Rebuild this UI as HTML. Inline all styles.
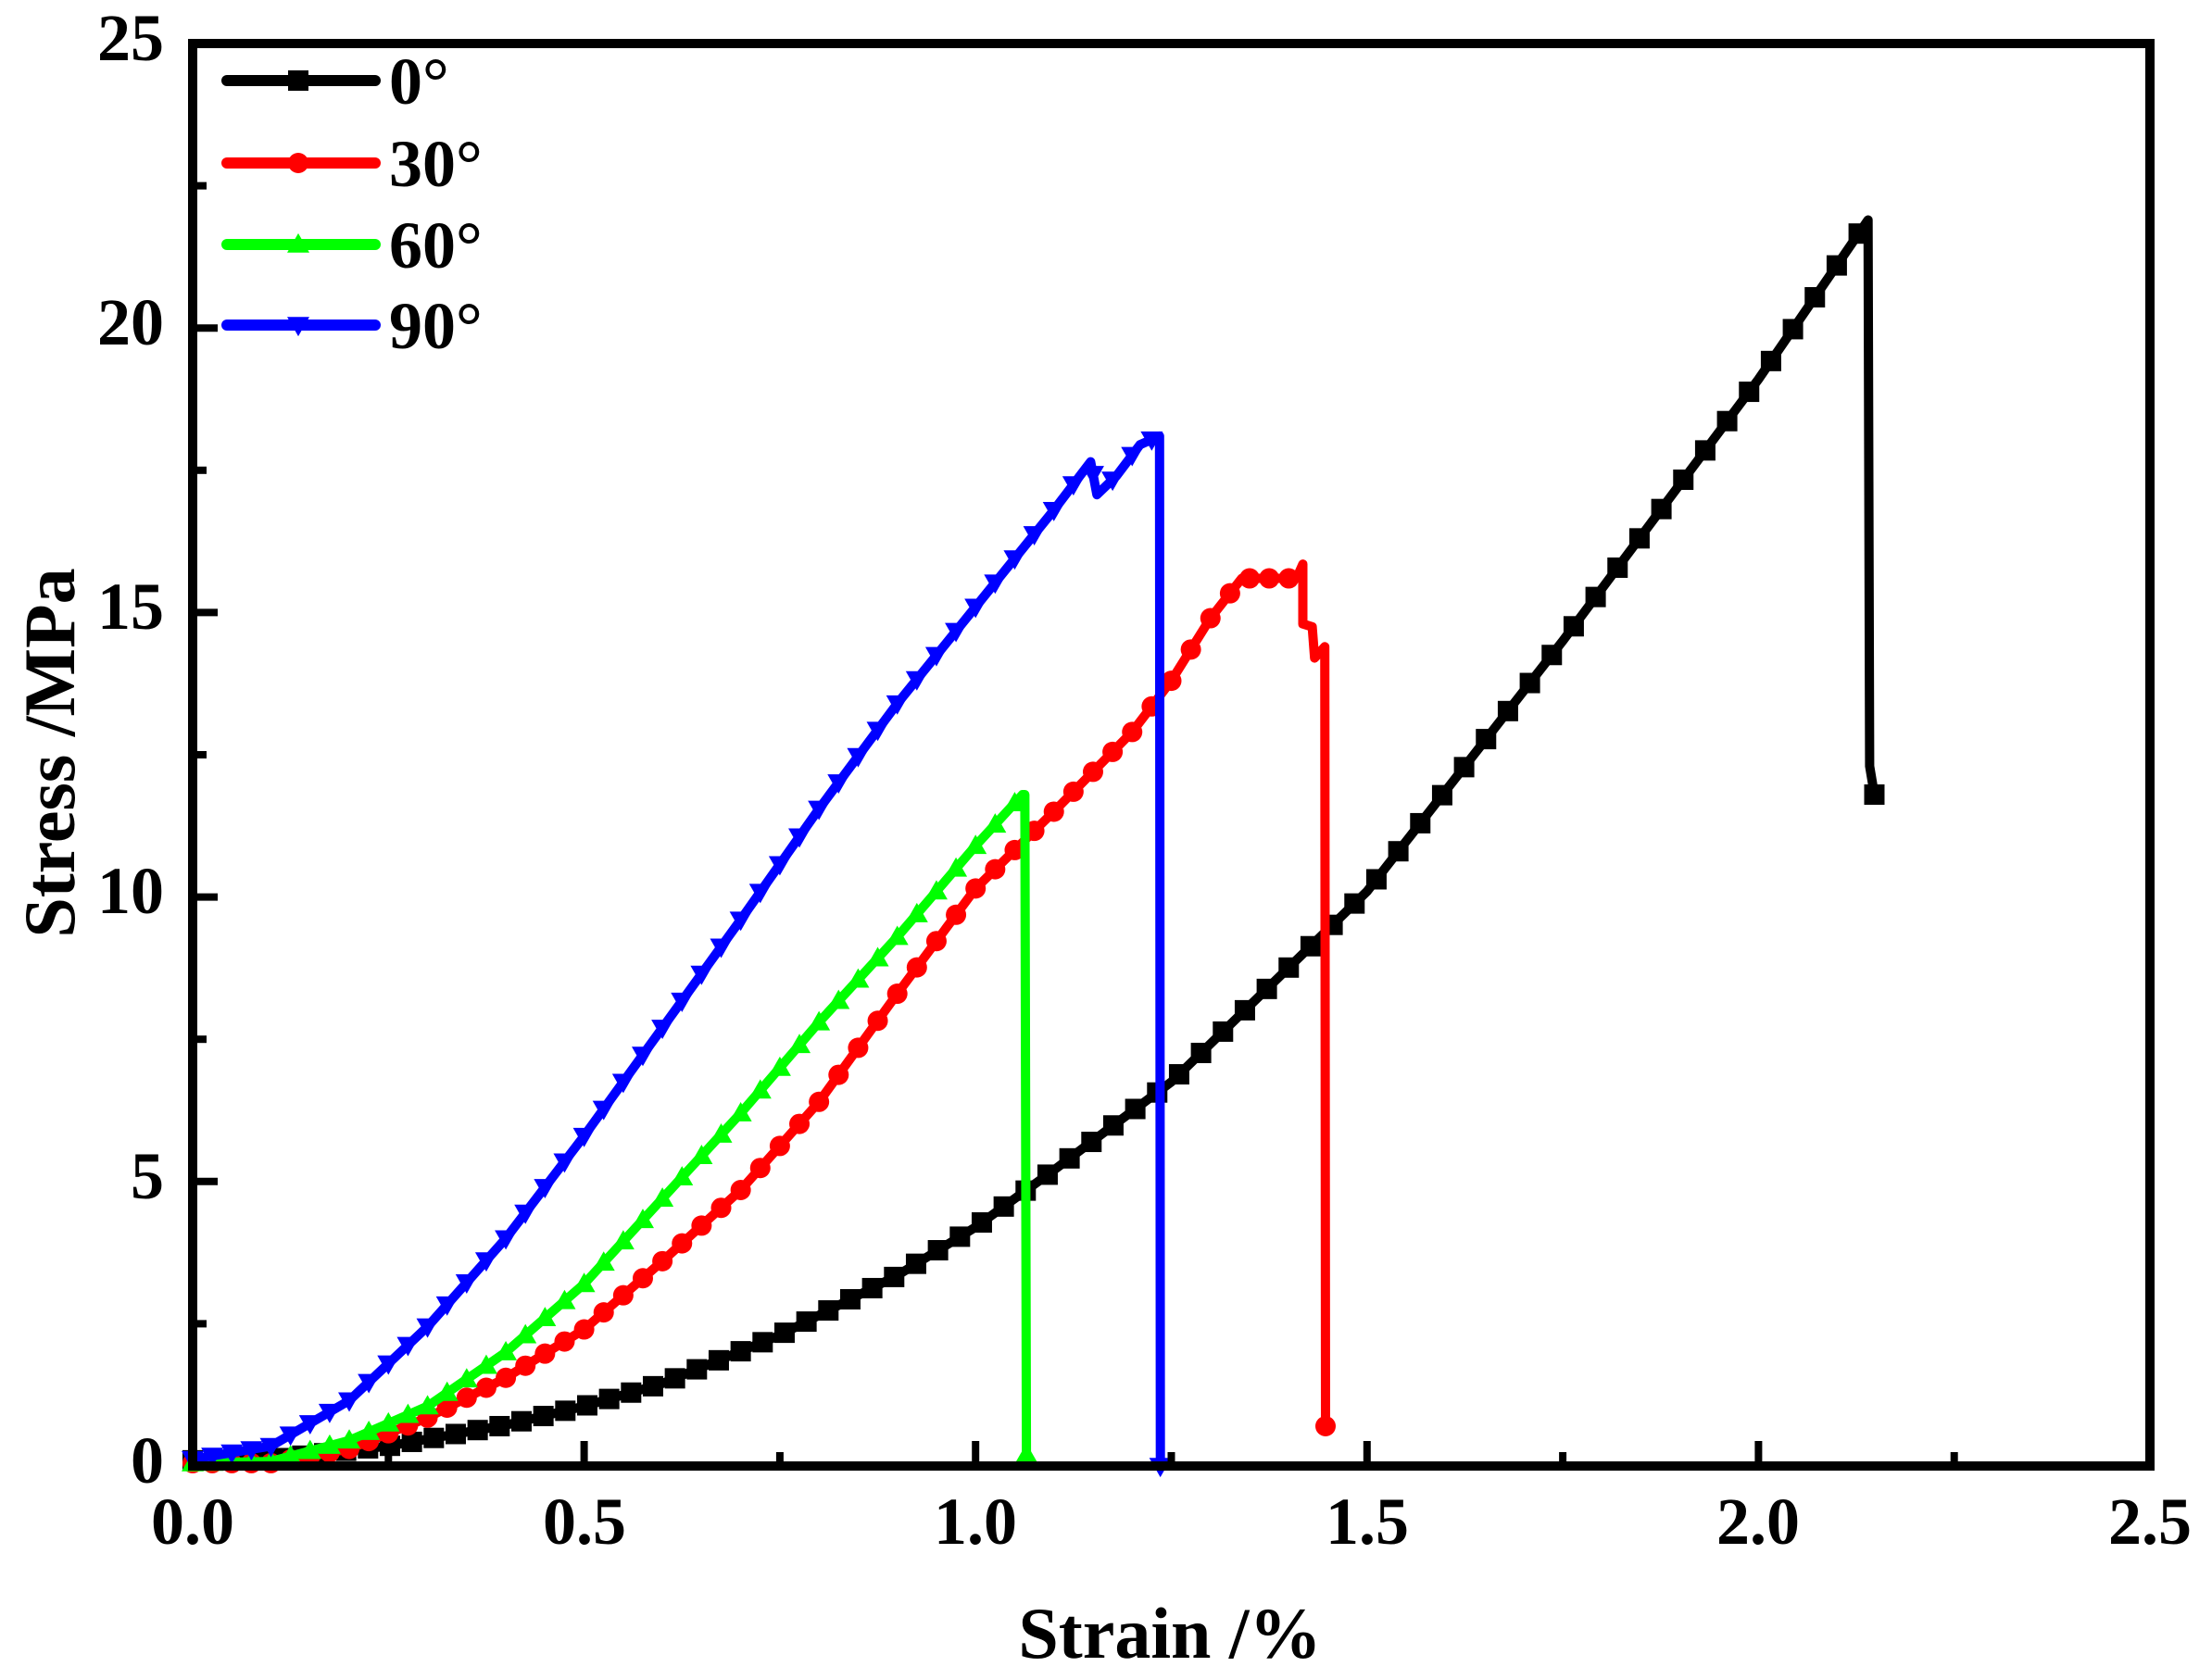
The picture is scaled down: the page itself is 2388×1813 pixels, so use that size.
<!DOCTYPE html>
<html><head><meta charset="utf-8"><style>
html,body{margin:0;padding:0;background:#fff;}
svg{display:block;}
text{font-family:"Liberation Serif",serif;font-weight:bold;fill:#000;}
</style></head><body>
<svg id="s" width="2388" height="1813" viewBox="0 0 2388 1813" xmlns="http://www.w3.org/2000/svg">
<g id="curves"></g>
<rect x="208" y="47" width="2113" height="1536" fill="none" stroke="#000" stroke-width="10"/>
<g id="ticks" stroke="#000" stroke-width="8"></g>
<g font-size="72" text-anchor="middle">
<text x="208" y="1667">0.0</text>
<text x="631" y="1667">0.5</text>
<text x="1053" y="1667">1.0</text>
<text x="1476" y="1667">1.5</text>
<text x="1898" y="1667">2.0</text>
<text x="2321" y="1667">2.5</text>
</g>
<g font-size="72" text-anchor="end">
<text x="177" y="1601">0</text>
<text x="177" y="1294">5</text>
<text x="177" y="986">10</text>
<text x="177" y="679">15</text>
<text x="177" y="372">20</text>
<text x="177" y="65">25</text>
</g>
<text x="1263" y="1790" font-size="78" text-anchor="middle">Strain /%</text>
<text transform="translate(80,813) rotate(-90)" font-size="78" text-anchor="middle">Stress /MPa</text>
<g id="legend"></g>
<g font-size="72">
<text x="420" y="112">0°</text>
<text x="420" y="201">30°</text>
<text x="420" y="289">60°</text>
<text x="420" y="376">90°</text>
</g>
</svg>
<script>
var NS="http://www.w3.org/2000/svg";
function X(s){return 208+845.2*s;}
function Y(v){return 1583-61.44*v;}
function el(p,n,a){var e=document.createElementNS(NS,n);for(var k in a)e.setAttribute(k,a[k]);p.appendChild(e);return e;}
var tk=document.getElementById('ticks');
for(var i=1;i<10;i++){var x=X(i*0.25);var L=(i%2==0)?22:10;el(tk,'line',{x1:x,x2:x,y1:1578,y2:1578-L});}
for(var i=1;i<10;i++){var y=Y(i*2.5);var L=(i%2==0)?22:10;el(tk,'line',{x1:213,x2:213+L,y1:y,y2:y});}
function marker(g,type,x,y,c){
 var r=11;
 if(type=='sq')el(g,'rect',{x:x-r,y:y-r,width:2*r,height:2*r,fill:c});
 else if(type=='ci')el(g,'circle',{cx:x,cy:y,r:r,fill:c});
 else if(type=='up')el(g,'polygon',{points:(x-r-1)+','+(y+r*0.8)+' '+(x+r+1)+','+(y+r*0.8)+' '+x+','+(y-r*1.1),fill:c});
 else el(g,'polygon',{points:(x-r-1)+','+(y-r*0.8)+' '+(x+r+1)+','+(y-r*0.8)+' '+x+','+(y+r*1.1),fill:c});
}
var series=[
 {c:'#000',m:'sq',step:0.028,pts:[[0,0.1],[0.1,0.12],[0.25,0.35],[0.4,0.72],[0.5,1.05],[0.6,1.45],[0.75,2.3],[0.9,3.35],[1.0,4.2],[1.1,5.2],[1.25,6.75],[1.5,10.1],[1.75,14.5],[2.0,19.1],[2.14,21.9]],tail:[[2.142,12.3],[2.148,11.8]]},
 {c:'#f00',m:'ci',step:0.025,pts:[[0,0.05],[0.1,0.05],[0.2,0.3],[0.3,0.85],[0.4,1.55],[0.5,2.4],[0.6,3.6],[0.7,4.85],[0.8,6.4],[0.9,8.3],[1.0,10.15],[1.1,11.5],[1.2,12.9],[1.25,13.8],[1.3,14.9],[1.34,15.6],[1.41,15.6],[1.418,15.85]],tail:[[1.418,14.8],[1.43,14.75],[1.433,14.2],[1.446,14.4],[1.447,0.7]]},
 {c:'#0f0',m:'up',step:0.025,pts:[[0,0.05],[0.1,0.08],[0.2,0.45],[0.3,1.05],[0.4,2.0],[0.5,3.2],[0.6,4.7],[0.7,6.2],[0.8,7.8],[0.9,9.3],[1.0,10.9],[1.06,11.8]],tail:[[1.063,11.8],[1.065,0.2]]},
 {c:'#00f',m:'dn',step:0.025,pts:[[0,0.12],[0.1,0.35],[0.2,1.15],[0.3,2.45],[0.4,4.0],[0.5,5.8],[0.6,7.7],[0.7,9.6],[0.8,11.55],[0.9,13.4],[1.0,15.1],[1.1,16.8],[1.147,17.65],[1.155,17.07],[1.18,17.4],[1.21,17.95],[1.235,18.1]],tail:[[1.236,0]]}
];
var cg=document.getElementById('curves');
series.forEach(function(s){
 var all=s.pts.concat(s.tail);
 var d='M'+all.map(function(p){return X(p[0]).toFixed(1)+','+Y(p[1]).toFixed(1);}).join(' L');
 el(cg,'path',{d:d,fill:'none',stroke:s.c,'stroke-width':10,'stroke-linejoin':'round','stroke-linecap':'round'});
 var p=s.pts,last=p[p.length-1][0];
 for(var t=p[0][0];t<=last;t+=s.step){
  var j=0;while(j<p.length-2&&p[j+1][0]<t)j++;
  var a=p[j],b=p[j+1];var f=(t-a[0])/(b[0]-a[0]);var v=a[1]+f*(b[1]-a[1]);
  marker(cg,s.m,X(t),Y(v),s.c);
 }
 var e=all[all.length-1];marker(cg,s.m,X(e[0]),Y(e[1]),s.c);
});
var lg=document.getElementById('legend');
var ly=[87,176,264,351];
series.forEach(function(s,i){
 el(lg,'line',{x1:245,x2:405,y1:ly[i],y2:ly[i],stroke:s.c,'stroke-width':12,'stroke-linecap':'round'});
 marker(lg,s.m,322,ly[i],s.c);
});
</script>
</body></html>
